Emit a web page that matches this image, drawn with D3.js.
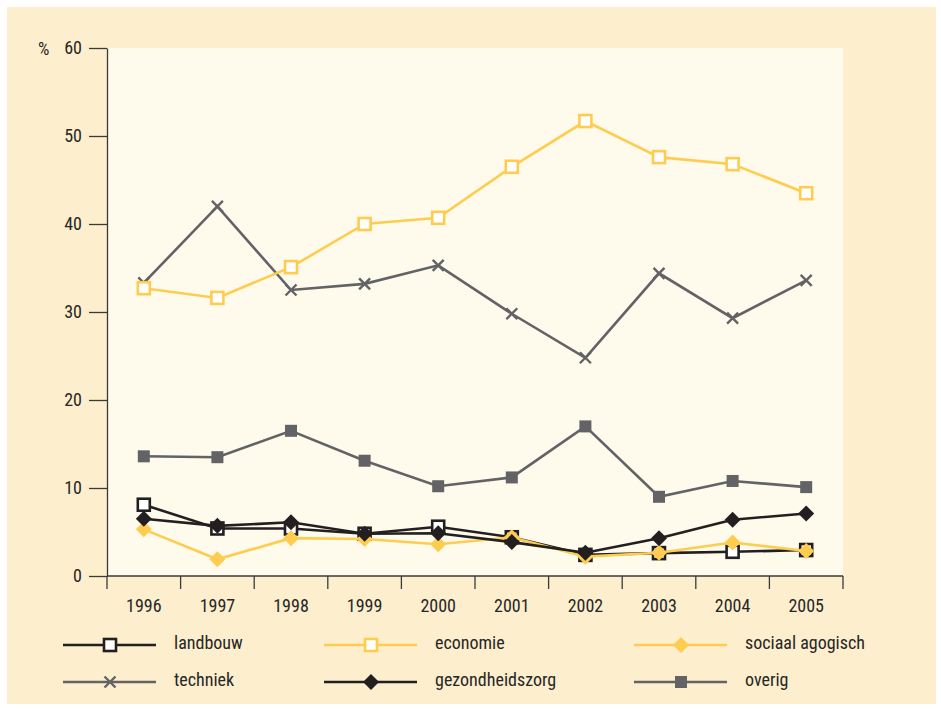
<html>
<head>
<script src="https://cdnjs.cloudflare.com/ajax/libs/d3/7.8.5/d3.min.js"></script>
</head>
<body style="margin: 0;">
</body>
<script>

var years = ["1996", "1997", "1998", "1999", "2000", "2001", "2002", "2003", "2004", "2005"]
var yTicks = [0, 10, 20, 30, 40, 50, 60]

var landbouw = [8.1, 5.4, 5.4, 4.8, 5.6, 4.4, 2.4, 2.6, 2.75, 2.95]
var economie = [32.7, 31.6, 35.1, 40.0, 40.7, 46.5, 51.7, 47.6, 46.8, 43.5]
var sociaalAgogisch = [5.3, 1.9, 4.3, 4.2, 3.6, 4.4, 2.2, 2.65, 3.8, 2.85]
var techniek = [33.3, 42.0, 32.5, 33.2, 35.3, 29.8, 24.8, 34.4, 29.3, 33.6]
var gezondheidszorg = [6.5, 5.7, 6.1, 4.8, 4.85, 3.85, 2.65, 4.3, 6.4, 7.1]
var overig = [13.6, 13.5, 16.5, 13.1, 10.2, 11.2, 17.0, 9.0, 10.8, 10.1]

var black = "#231f20", yellow = "#fecd4f", grey = "#636366"

var series = [
  {name: "landbouw", values: landbouw, color: black, marker: "open"},
  {name: "economie", values: economie, color: yellow, marker: "open"},
  {name: "sociaal agogisch", values: sociaalAgogisch, color: yellow, marker: "diamond"},
  {name: "techniek", values: techniek, color: grey, marker: "cross"},
  {name: "gezondheidszorg", values: gezondheidszorg, color: black, marker: "diamond"},
  {name: "overig", values: overig, color: grey, marker: "square"}
]

// drawing order: back to front
var drawOrder = ["techniek", "economie", "overig", "landbouw", "sociaal agogisch", "gezondheidszorg"]

var width = 941, height = 709
var margin = {left: 107, right: 98, top: 48, bottom: 133}
var font = "'Liberation Sans Narrow', 'Roboto Condensed', Roboto, sans-serif"
var fontSize = "18px", textColor = "#262626"

var svg = d3.select("body").append("svg")
  .attr("width", width)
  .attr("height", height)
  .style("font-family", font)

svg.append("rect")
  .attr("x", 7).attr("y", 7)
  .attr("width", 929).attr("height", 697)
  .attr("fill", "#fdefcd")

var x = d3.scaleBand()
  .domain(years)
  .range([margin.left, width - margin.right])

var y = d3.scaleLinear()
  .domain([0, 60])
  .range([height - margin.bottom, margin.top])

svg.append("rect")
  .attr("x", margin.left).attr("y", margin.top)
  .attr("width", width - margin.right - margin.left)
  .attr("height", height - margin.bottom - margin.top)
  .attr("fill", "#fefaec")

// y axis
var yAxis = svg.append("g")
  .attr("transform", `translate(${margin.left},0)`)
  .call(d3.axisLeft(y).tickValues(yTicks).tickSize(18).tickPadding(7).tickSizeOuter(0))
yAxis.select(".domain").attr("stroke", "#3a3a3a").attr("stroke-width", 1.3)
yAxis.selectAll(".tick line").attr("stroke", "#3a3a3a").attr("stroke-width", 1.3)
yAxis.selectAll(".tick text")
  .attr("fill", textColor)
  .style("font-family", font)
  .style("font-size", fontSize)

svg.append("text")
  .attr("x", 38).attr("y", y(60) + 1)
  .attr("dy", "0.35em")
  .attr("fill", textColor)
  .style("font-size", fontSize)
  .text("%")

// x axis with ticks at band edges
var xg = svg.append("g")
  .attr("transform", `translate(0,${y(0)})`)
xg.append("line")
  .attr("x1", margin.left).attr("x2", width - margin.right)
  .attr("stroke", "#3a3a3a").attr("stroke-width", 1.3)
var edges = years.map(d => x(d)).concat([x(years[years.length - 1]) + x.bandwidth()])
xg.selectAll(".edge")
  .data(edges)
  .enter().append("line")
  .attr("x1", d => d).attr("x2", d => d)
  .attr("y1", 0).attr("y2", 13)
  .attr("stroke", "#3a3a3a").attr("stroke-width", 1.3)
xg.selectAll(".lab")
  .data(years)
  .enter().append("text")
  .attr("x", d => x(d) + x.bandwidth() / 2)
  .attr("y", 30)
  .attr("dy", "0.35em")
  .attr("text-anchor", "middle")
  .attr("fill", textColor)
  .style("font-size", fontSize)
  .text(d => d)

var line = d3.line()
  .x((d, i) => x(years[i]) + x.bandwidth() / 2)
  .y(d => y(d))

function drawMarker(g, type, color) {
  if (type === "open") {
    g.append("rect").attr("x", -6).attr("y", -6).attr("width", 12).attr("height", 12)
      .attr("fill", "#fff").attr("stroke", color).attr("stroke-width", 2.6)
  } else if (type === "square") {
    g.append("rect").attr("x", -6).attr("y", -6).attr("width", 12).attr("height", 12)
      .attr("fill", color)
  } else if (type === "diamond") {
    g.append("path").attr("d", "M0,-8L8,0L0,8L-8,0Z").attr("fill", color)
  } else if (type === "cross") {
    g.append("path").attr("d", "M-5.5,-5.5L5.5,5.5M-5.5,5.5L5.5,-5.5")
      .attr("stroke", color).attr("stroke-width", 2.4).attr("fill", "none")
  }
}

drawOrder.forEach(function(name) {
  var s = series.find(d => d.name === name)
  svg.append("path")
    .datum(s.values)
    .attr("d", line)
    .attr("fill", "none")
    .attr("stroke", s.color)
    .attr("stroke-width", 2.6)
  s.values.forEach(function(v, i) {
    var g = svg.append("g")
      .attr("transform", `translate(${x(years[i]) + x.bandwidth() / 2},${y(v)})`)
    drawMarker(g, s.marker, s.color)
  })
})

// legend
var legendCols = [63, 324, 634]
var legendRows = [645, 682]
series.forEach(function(s, i) {
  var lx = legendCols[i % 3], ly = legendRows[Math.floor(i / 3)]
  var g = svg.append("g").attr("transform", `translate(${lx},${ly})`)
  g.append("line").attr("x1", 0).attr("x2", 93)
    .attr("stroke", s.color).attr("stroke-width", 2.6)
  var m = g.append("g").attr("transform", "translate(47,0)")
  drawMarker(m, s.marker, s.color)
  g.append("text")
    .attr("x", 111)
    .attr("y", -2)
    .attr("dy", "0.35em")
    .attr("fill", textColor)
    .style("font-size", fontSize)
    .text(s.name)
})

</script>
</html>
